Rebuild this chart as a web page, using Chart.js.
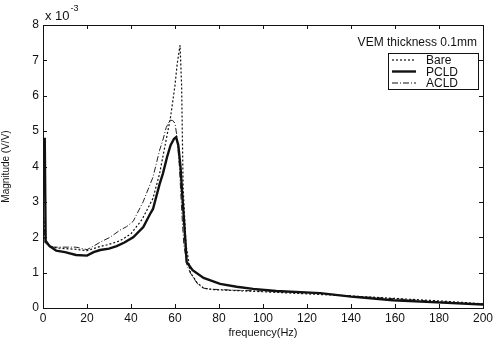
<!DOCTYPE html>
<html>
<head>
  <title>VEM thickness 0.1mm</title>
  <script src="https://cdn.jsdelivr.net/npm/chart.js"></script>
  <style>
    body { margin: 0; background-color: #FFFFFF; }
    .chart-container { width: 496px; height: 340px; }
  </style>
</head>
<body>
  <div class="chart-container">
    <canvas id="magChart" width="496" height="340"></canvas>
  </div>

  <script>
    // values (magnitude in units of 1e-3 V/V)
    const bareFreq = [0, 1, 3, 6, 10, 15, 20, 25, 30, 35, 40, 45, 50, 53, 55.5, 58, 60, 61, 62.3, 63, 63.7, 65, 67, 70, 73, 77, 85, 100, 120, 140, 160, 180, 200];
    const bareMag = [2.9, 1.85, 1.75, 1.7, 1.68, 1.66, 1.62, 1.72, 1.8, 1.9, 2.1, 2.5, 3.1, 3.8, 4.6, 5.4, 6.3, 6.9, 7.43, 6.3, 3.4, 1.8, 1.0, 0.72, 0.56, 0.52, 0.5, 0.46, 0.4, 0.34, 0.27, 0.2, 0.12];

    const pcldFreq = [0, 0.8, 1.2, 3, 6, 10, 15, 20, 23, 26, 30, 33.5, 37, 41, 45.6, 48.6, 50, 53, 54.5, 56.4, 58, 59.5, 60.5, 61.5, 62.5, 63.3, 64.5, 65.3, 68, 73, 80.5, 88, 95.5, 106, 126, 140, 159, 179, 200];
    const pcldMag = [4.78, 4.78, 1.9, 1.75, 1.62, 1.58, 1.5, 1.48, 1.58, 1.64, 1.68, 1.75, 1.85, 2.0, 2.29, 2.65, 2.8, 3.5, 3.8, 4.27, 4.6, 4.78, 4.83, 4.6, 4.0, 3.2, 2.1, 1.3, 1.07, 0.85, 0.68, 0.6, 0.54, 0.48, 0.42, 0.32, 0.22, 0.16, 0.1];

    const acldFreq = [0, 1, 3, 6, 10, 15, 20, 23, 26, 30.5, 35, 38, 41, 45.5, 50, 53, 54.5, 56, 57.7, 59, 60, 61, 62, 63, 64, 65.5, 67, 70, 73, 77, 88, 106, 126, 140, 160, 180, 200];
    const acldMag = [2.85, 1.85, 1.72, 1.72, 1.72, 1.72, 1.65, 1.75, 1.86, 2.0, 2.2, 2.3, 2.45, 3.0, 3.7, 4.46, 4.75, 5.1, 5.31, 5.3, 5.22, 4.8, 4.0, 2.8, 1.8, 1.2, 0.99, 0.7, 0.56, 0.53, 0.5, 0.47, 0.42, 0.34, 0.26, 0.18, 0.1];

    const xTicks = [0, 20, 40, 60, 80, 100, 120, 140, 160, 180, 200];
    const yTicks = [0, 1, 2, 3, 4, 5, 6, 7, 8];

    const toPoints = (fs, ms) => fs.map((f, i) => ({ x: f, y: ms[i] }));

    const FONT = '"Liberation Sans", Arial, sans-serif';

    // box, inward ticks on all sides, exponent, annotation and legend
    const matlabBox = {
      id: 'matlabBox',
      afterDraw(chart) {
        const ctx = chart.ctx;
        const a = chart.chartArea;
        const xs = chart.scales.x;
        const ys = chart.scales.y;
        ctx.save();
        ctx.strokeStyle = '#111';
        ctx.lineWidth = 1;
        ctx.strokeRect(a.left + 0.5, a.top + 0.5, a.right - a.left, a.bottom - a.top);
        ctx.beginPath();
        xTicks.forEach((t) => {
          const px = Math.round(xs.getPixelForValue(t)) + 0.5;
          ctx.moveTo(px, a.bottom); ctx.lineTo(px, a.bottom - 4);
          ctx.moveTo(px, a.top); ctx.lineTo(px, a.top + 4);
        });
        yTicks.forEach((t) => {
          const py = Math.round(ys.getPixelForValue(t)) + 0.5;
          ctx.moveTo(a.left, py); ctx.lineTo(a.left + 4, py);
          ctx.moveTo(a.right, py); ctx.lineTo(a.right - 4, py);
        });
        ctx.stroke();

        // exponent label
        ctx.fillStyle = '#111';
        ctx.textBaseline = 'middle';
        ctx.textAlign = 'left';
        ctx.font = '13px ' + FONT;
        const base = 'x 10';
        ctx.fillText(base, a.left + 2, 16);
        const bw = ctx.measureText(base).width;
        ctx.font = '9px ' + FONT;
        ctx.fillText('-3', a.left + 3 + bw, 9);

        // annotation
        ctx.font = '12px ' + FONT;
        ctx.textAlign = 'right';
        ctx.fillText('VEM thickness 0.1mm', a.right - 6, 43);

        // legend box
        const lx = 388, ly = 53, lw = 90, lh = 36;
        ctx.fillStyle = '#FFF';
        ctx.fillRect(lx, ly, lw, lh);
        ctx.strokeRect(lx + 0.5, ly + 0.5, lw, lh);
        const items = chart.data.datasets;
        items.forEach((ds, i) => {
          const yy = ly + 7 + i * 11.5;
          ctx.beginPath();
          ctx.setLineDash(ds.borderDash || []);
          ctx.lineWidth = ds.borderWidth;
          ctx.moveTo(lx + 4, yy);
          ctx.lineTo(lx + 28, yy);
          ctx.stroke();
          ctx.setLineDash([]);
          ctx.lineWidth = 1;
          ctx.fillStyle = '#111';
          ctx.textAlign = 'left';
          ctx.font = '12px ' + FONT;
          ctx.fillText(ds.label, lx + 38, yy + 1);
        });
        ctx.restore();
      }
    };

    const ctx = document.getElementById('magChart').getContext('2d');
    window.chart = new Chart(ctx, {
      type: 'line',
      data: {
        datasets: [
          {
            label: 'Bare',
            data: toPoints(bareFreq, bareMag),
            borderColor: '#111',
            borderWidth: 1.2,
            borderDash: [2, 2],
          },
          {
            label: 'PCLD',
            data: toPoints(pcldFreq, pcldMag),
            borderColor: '#111',
            borderWidth: 2.4,
          },
          {
            label: 'ACLD',
            data: toPoints(acldFreq, acldMag),
            borderColor: '#222',
            borderWidth: 1,
            borderDash: [6, 2, 1, 2],
          },
        ],
      },
      options: {
        responsive: false,
        animation: false,
        layout: { padding: { top: 25, right: 12, left: 0, bottom: 0 } },
        elements: { point: { radius: 0 }, line: { tension: 0, fill: false } },
        plugins: { legend: { display: false }, tooltip: { enabled: false } },
        scales: {
          x: {
            type: 'linear',
            min: 0,
            max: 200,
            afterBuildTicks: (s) => { s.ticks = xTicks.map((v) => ({ value: v })); },
            afterFit: (s) => { s.height = 32; },
            grid: { display: false, drawTicks: false },
            border: { display: false },
            ticks: { color: '#111', padding: 3, maxRotation: 0, font: { family: FONT, size: 12 } },
            title: { display: true, text: 'frequency(Hz)', color: '#111', padding: { top: 1, bottom: 0 }, font: { family: FONT, size: 11 } },
          },
          y: {
            min: 0,
            max: 8,
            afterBuildTicks: (s) => { s.ticks = yTicks.map((v) => ({ value: v })); },
            afterFit: (s) => { s.width = 43; },
            grid: { display: false, drawTicks: false },
            border: { display: false },
            ticks: { color: '#111', padding: 4, font: { family: FONT, size: 12 } },
            title: { display: true, text: 'Magnitude (V/V)', color: '#111', padding: { top: 0, bottom: 2 }, font: { family: FONT, size: 10 } },
          },
        },
      },
      plugins: [matlabBox],
    });
  </script>
</body>
</html>
